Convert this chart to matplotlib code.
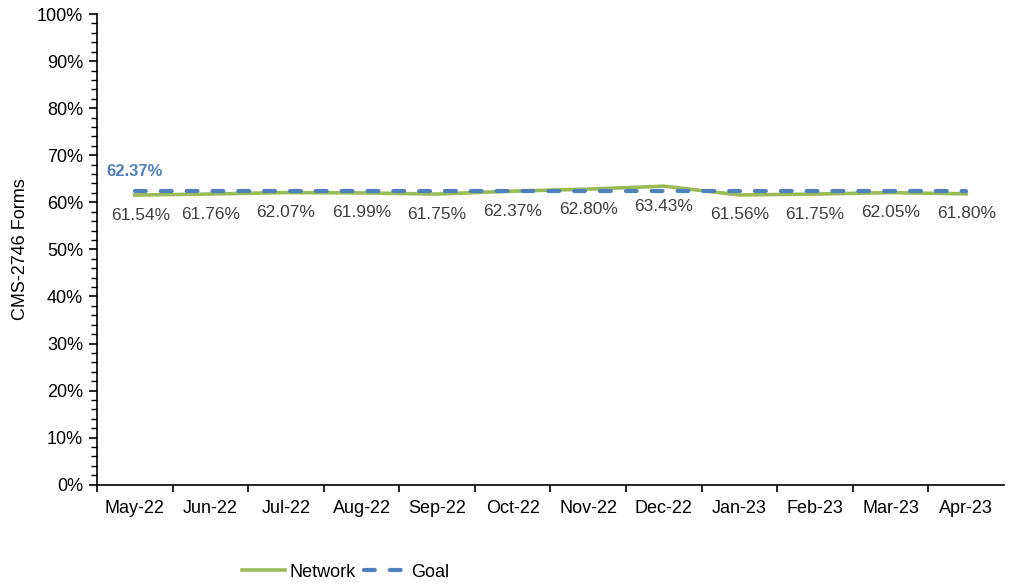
import matplotlib.pyplot as plt
from matplotlib.ticker import MultipleLocator, PercentFormatter

months = ["May-22", "Jun-22", "Jul-22", "Aug-22", "Sep-22", "Oct-22",
          "Nov-22", "Dec-22", "Jan-23", "Feb-23", "Mar-23", "Apr-23"]
network = [61.54, 61.76, 62.07, 61.99, 61.75, 62.37,
           62.80, 63.43, 61.56, 61.75, 62.05, 61.80]
goal = [62.37] * 12


def main():
    plt.rcParams["font.family"] = ["Liberation Sans", "DejaVu Sans"]
    fig = plt.figure(figsize=(10.11, 5.84), dpi=100)
    ax = fig.add_axes([0.096, 0.17, 0.897, 0.806])

    x = list(range(len(months)))
    ax.plot(x, network, color="#9BBB59", lw=2.6, label="Network", zorder=2)
    ax.plot(x, goal, color="#4F81BD", lw=3, ls=(0, (2.6, 3.6)),
            dash_capstyle="round", label="Goal", zorder=3)

    for xi, v in zip(x, network):
        ax.annotate(f"{v:.2f}%", (xi, v), xytext=(4 if xi == 0 else 0, -9),
                    textcoords="offset points", ha="center", va="top",
                    fontsize=12.5, color="#404040")
    ax.annotate(f"{goal[0]:.2f}%", (0, goal[0]), xytext=(0, 9),
                textcoords="offset points", ha="center", va="bottom",
                fontsize=12, color="#4F81BD", fontweight="bold")

    ax.set_xlim(-0.5, len(months) - 0.5)
    ax.set_ylim(0, 100)
    ax.set_xticks(x)
    ax.set_xticklabels(months, fontsize=13)
    ax.set_xticks([i + 0.5 for i in range(-1, len(months) - 1)], minor=True)
    ax.tick_params(axis="x", which="major", length=0, pad=11)
    ax.tick_params(axis="x", which="minor", length=5, width=1.2,
                   direction="out")
    ax.yaxis.set_major_locator(MultipleLocator(10))
    ax.yaxis.set_minor_locator(MultipleLocator(2))
    ax.yaxis.set_major_formatter(PercentFormatter(decimals=0))
    ax.tick_params(axis="y", which="major", length=6, width=1.2,
                   labelsize=13, pad=4)
    ax.tick_params(axis="y", which="minor", length=4, width=1)
    ax.set_ylabel("CMS-2746 Forms", fontsize=13, labelpad=6)

    for s in ["top", "right"]:
        ax.spines[s].set_visible(False)
    for s in ["left", "bottom"]:
        ax.spines[s].set_linewidth(1.2)

    fig.legend(loc="lower center", bbox_to_anchor=(0.342, -0.022), ncol=2,
               frameon=False, fontsize=13, handlelength=2.4,
               columnspacing=0.5, handletextpad=0.2)

    fig.savefig("out.png", dpi=100)


if __name__ == "__main__":
    main()
